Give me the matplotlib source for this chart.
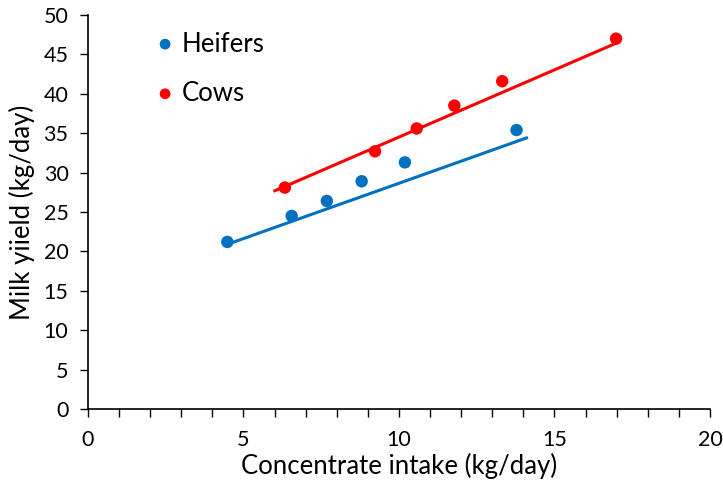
import matplotlib
matplotlib.use("Agg")
import matplotlib.pyplot as plt
from matplotlib.ticker import MultipleLocator

plt.rcParams['font.family'] = ['Lato', 'DejaVu Sans']

heifer_x = [4.48, 6.55, 7.68, 8.80, 10.19, 13.78]
heifer_y = [21.2, 24.5, 26.4, 28.9, 31.3, 35.4]
cow_x = [6.33, 9.23, 10.57, 11.78, 13.32, 16.98]
cow_y = [28.1, 32.7, 35.6, 38.5, 41.6, 47.0]

# trendlines as drawn in the original (end points)
heifer_trend_x = [4.41, 14.1]
heifer_trend_y = [20.8, 34.4]
cow_trend_x = [6.01, 16.97]
cow_trend_y = [27.7, 46.4]

blue = '#0070C0'
red = '#FF0000'

fig = plt.figure(figsize=(7.23, 4.9), dpi=100)
ax = fig.add_axes([0.1217, 0.1653, 0.8603, 0.8041])

ax.plot(heifer_trend_x, heifer_trend_y, color=blue, lw=2.2, zorder=2)
ax.plot(cow_trend_x, cow_trend_y, color=red, lw=2.2, zorder=2)
ax.scatter(heifer_x, heifer_y, s=80, color=blue, zorder=3, edgecolors='none')
ax.scatter(cow_x, cow_y, s=80, color=red, zorder=3, edgecolors='none')

ax.set_xlim(0, 20)
ax.set_ylim(0, 50)
ax.xaxis.set_major_locator(MultipleLocator(5))
ax.xaxis.set_minor_locator(MultipleLocator(1))
ax.yaxis.set_major_locator(MultipleLocator(5))
ax.tick_params(axis='both', which='both', direction='out', labelsize=15.5,
               width=1, color='black')
ax.tick_params(axis='x', which='major', length=6, pad=9)
ax.tick_params(axis='x', which='minor', length=6)
ax.tick_params(axis='y', which='major', length=6, pad=8)
for s in ['top', 'right']:
    ax.spines[s].set_visible(False)
for s in ['left', 'bottom']:
    ax.spines[s].set_linewidth(1.2)

ax.set_xlabel('Concentrate intake (kg/day)', fontsize=18.5, labelpad=2)
ax.set_ylabel('Milk yiield (kg/day)', fontsize=18.5, labelpad=6)

# legend as in the original (placed inside the plot)
ax.scatter([2.48], [46.3], s=60, color=blue, edgecolors='none', zorder=3)
ax.text(3.0, 46.3, 'Heifers', fontsize=18.5, va='center')
ax.scatter([2.48], [40.0], s=60, color=red, edgecolors='none', zorder=3)
ax.text(3.0, 40.0, 'Cows', fontsize=18.5, va='center')

fig.savefig('out.png', dpi=100)
